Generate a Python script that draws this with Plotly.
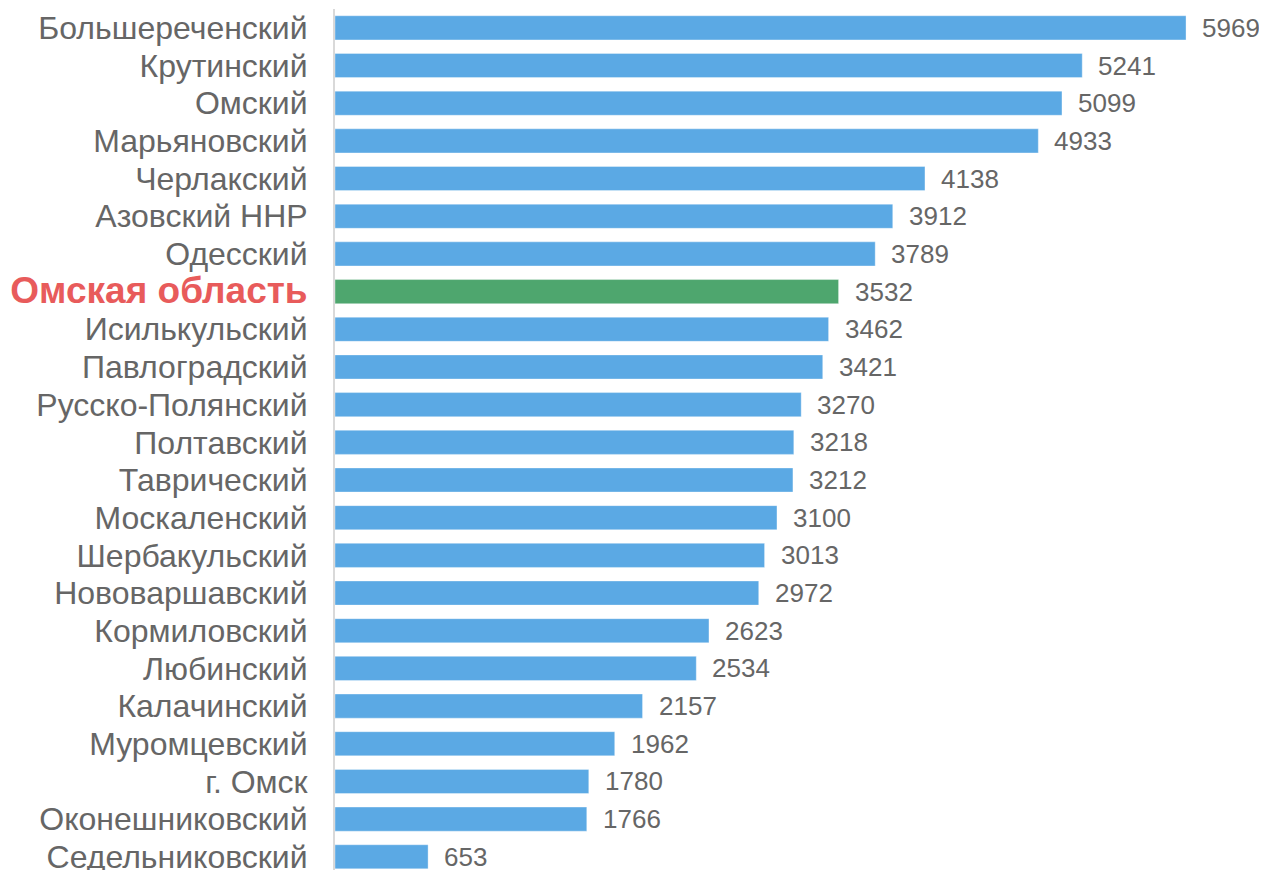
import plotly.graph_objects as go

districts = ["Большереченский", "Крутинский", "Омский", "Марьяновский", "Черлакский",
             "Азовский ННР", "Одесский", "Омская область", "Исилькульский", "Павлоградский",
             "Русско-Полянский", "Полтавский", "Таврический", "Москаленский", "Шербакульский",
             "Нововаршавский", "Кормиловский", "Любинский", "Калачинский", "Муромцевский",
             "г. Омск", "Оконешниковский", "Седельниковский"]
values = [5969, 5241, 5099, 4933, 4138, 3912, 3789, 3532, 3462, 3421, 3270, 3218, 3212,
          3100, 3013, 2972, 2623, 2534, 2157, 1962, 1780, 1766, 653]
highlight = "Омская область"

blue = "#5BA9E4"
green = "#4EA66E"
red = "#E85B5B"
grey = "#666666"

colors = [green if d == highlight else blue for d in districts]
ticktext = [f"<b><span style='color:{red};font-size:37px'>{d}</span></b>" if d == highlight else d
            for d in districts]

fig = go.Figure(go.Bar(
    x=values, y=districts, orientation="h",
    marker=dict(color=colors, line=dict(color="rgba(255,255,255,0.35)", width=1)),
    width=0.64,
))

for d, v in zip(districts, values):
    fig.add_annotation(x=v, y=d, text=str(v), showarrow=False, xanchor="left",
                       xshift=14, font=dict(size=26, color=grey))

# the page body has an 8px default margin, so the figure is 8px smaller
fig.update_layout(
    width=1259, height=862,
    margin=dict(l=327, r=0, t=1, b=0),
    plot_bgcolor="white", paper_bgcolor="white",
    font=dict(family="Liberation Sans, Arial", color=grey),
    showlegend=False,
)
fig.update_xaxes(range=[0, 6537], visible=False, automargin=False)
fig.update_yaxes(
    categoryorder="array", categoryarray=districts,
    range=[22.35, -0.5],
    tickmode="array", tickvals=districts, ticktext=ticktext,
    tickfont=dict(size=32, color=grey),
    ticks="", ticklabelstandoff=19, automargin=False,
    showline=True, linecolor="#D9D9D9", linewidth=2,
    showgrid=False, zeroline=False,
)

fig.write_html("out.html")
